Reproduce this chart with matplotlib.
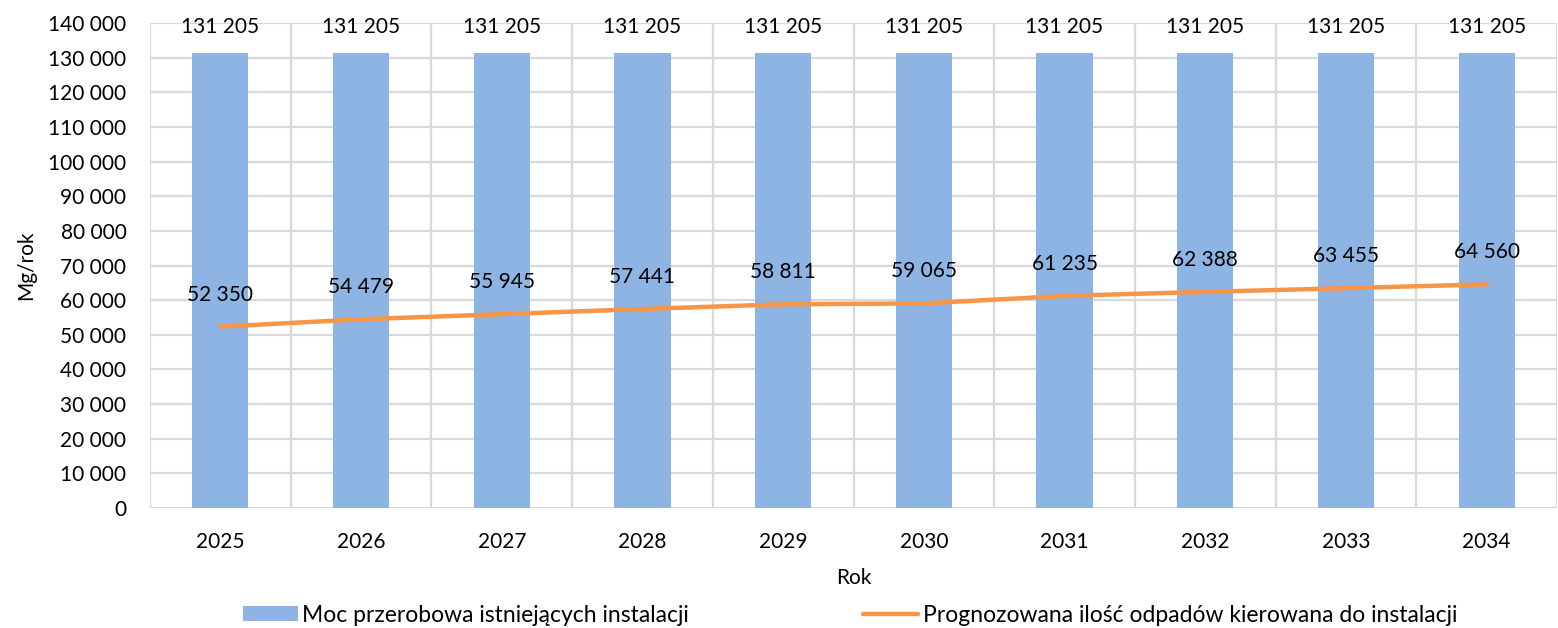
import matplotlib
matplotlib.use("Agg")
import matplotlib.pyplot as plt
from matplotlib.ticker import FuncFormatter

plt.rcParams['font.family'] = ['Lato', 'DejaVu Sans']

# data
years = ['2025', '2026', '2027', '2028', '2029', '2030', '2031', '2032', '2033', '2034']
capacity = [131205, 131205, 131205, 131205, 131205, 131205, 131205, 131205, 131205, 131205]
forecast = [52350, 54479, 55945, 57441, 58811, 59065, 61235, 62388, 63455, 64560]

bar_label = 'Moc przerobowa istniejących instalacji'
line_label = 'Prognozowana ilość odpadów kierowana do instalacji'


def spaced(v, pos=None):
    return f'{int(v):,}'.replace(',', ' ')


fig = plt.figure(figsize=(15.58, 6.28), dpi=100)
ax = fig.add_axes([150 / 1558, 1 - 508 / 628, 1407 / 1558, 485 / 628])

x = range(len(years))
bars = ax.bar(x, capacity, width=0.4, color='#8EB4E3', label=bar_label, zorder=2)
line, = ax.plot(x, forecast, color='#F79646', lw=3.2, solid_capstyle='round',
                label=line_label, zorder=3)

# value labels
for i, v in enumerate(capacity):
    ax.annotate(spaced(v), (i, v), xytext=(0, 19), textcoords='offset points',
                ha='center', va='center', fontsize=15)
for i, v in enumerate(forecast):
    ax.annotate(spaced(v), (i, v), xytext=(0, 23), textcoords='offset points',
                ha='center', va='center', fontsize=15)

ax.set_xlim(-0.5, len(years) - 0.5)
ax.set_ylim(0, 140000)
ax.set_yticks(range(0, 140001, 10000))
ax.yaxis.set_major_formatter(FuncFormatter(spaced))
ax.set_xticks(list(x))
ax.set_xticklabels(years)
ax.tick_params(axis='both', length=0, labelsize=15)
ax.tick_params(axis='x', pad=17)
ax.tick_params(axis='y', pad=17)

# grid: horizontal at ticks, vertical between categories
ax.grid(axis='y', color='#D9D9D9', lw=1.6, zorder=0)
for b in [i - 0.5 for i in range(len(years) + 1)]:
    ax.axvline(b, color='#D9D9D9', lw=1.6, zorder=0)
for s in ax.spines.values():
    s.set_visible(False)
ax.axhline(0, color='#D9D9D9', lw=2, zorder=1)

ax.set_xlabel('Rok', fontsize=15, labelpad=12)
ax.set_ylabel('Mg/rok', fontsize=15, labelpad=9)

fig.legend(handles=[bars, line], labels=[bar_label, line_label], loc='center',
           bbox_to_anchor=(850 / 1558, 1 - 615 / 628), ncol=2, frameon=False,
           fontsize=16.5, handlelength=2.4, handleheight=0.6, handletextpad=0.2,
           columnspacing=7.6)

fig.savefig('out.png', dpi=100)
